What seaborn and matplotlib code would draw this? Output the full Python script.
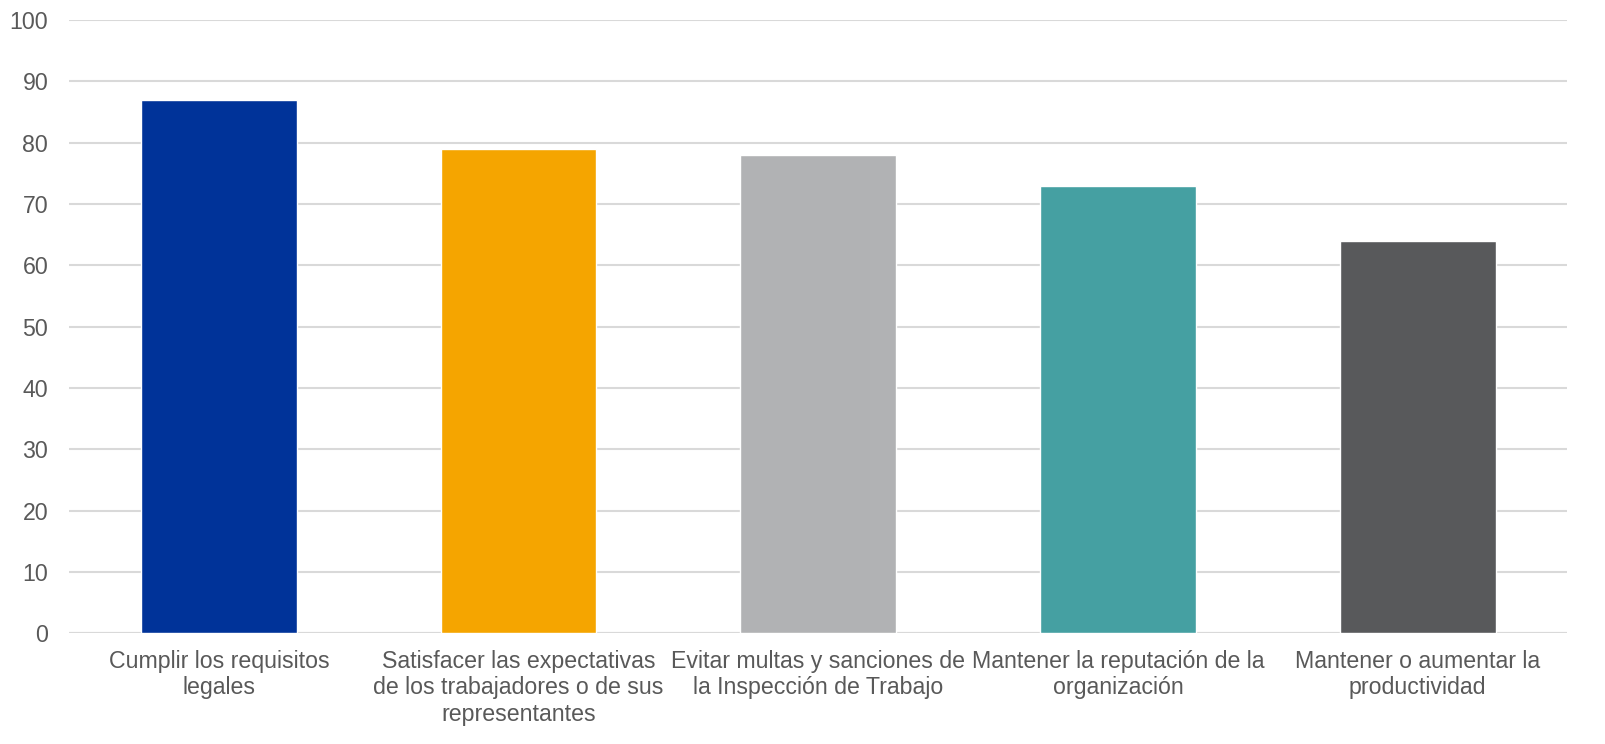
import matplotlib
matplotlib.use("Agg")
import matplotlib.pyplot as plt
import seaborn as sns
import pandas as pd

categories = [
    "Cumplir los requisitos\nlegales",
    "Satisfacer las expectativas\nde los trabajadores o de sus\nrepresentantes",
    "Evitar multas y sanciones de\nla Inspección de Trabajo",
    "Mantener la reputación de la\norganización",
    "Mantener o aumentar la\nproductividad",
]
values = [87, 79, 78, 73, 64]
colors = ["#003399", "#F5A500", "#B1B2B4", "#45A0A2", "#58595B"]
yticks = [0, 10, 20, 30, 40, 50, 60, 70, 80, 90, 100]

sns.set_theme(style="white")
plt.rcParams['font.family'] = ['Liberation Sans', 'DejaVu Sans']

df = pd.DataFrame({"cat": categories, "val": values})

fig = plt.figure(figsize=(16.06, 7.44), dpi=100)
ax = fig.add_axes([0.043, 0.149, 0.933, 0.824])

sns.barplot(data=df, x="cat", y="val", hue="cat", palette=colors,
            width=0.52, legend=False, ax=ax, saturation=1, zorder=3)

ax.set_ylim(0, 100)
ax.set_yticks(yticks)
ax.set_xlim(-0.5, len(categories) - 0.5)
ax.yaxis.grid(True, color="#D9D9D9", linewidth=1.5, zorder=0)
ax.set_axisbelow(True)
for s in ax.spines.values():
    s.set_visible(False)
ax.axhline(0, color="#D9D9D9", linewidth=1.5, zorder=2)

ax.set_xlabel("")
ax.set_ylabel("")
ax.tick_params(axis="both", length=0, labelsize=16.7, colors="#595959")
ax.tick_params(axis="y", pad=15)
ax.tick_params(axis="x", pad=12)

fig.savefig("out.png", dpi=100)
